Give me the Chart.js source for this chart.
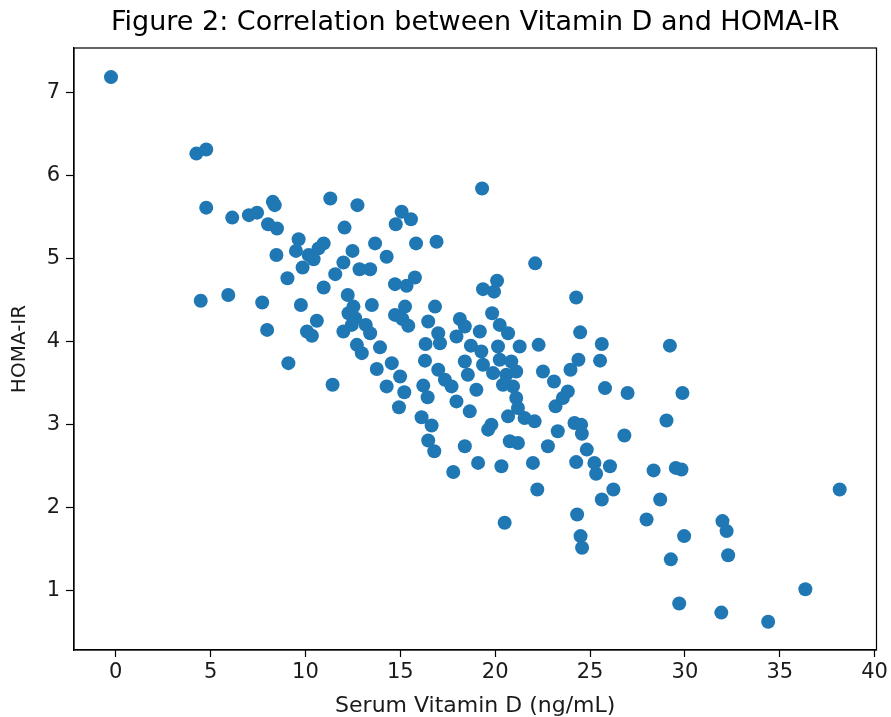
<!DOCTYPE html>
<html>
<head>
<meta charset="utf-8">
<title>Vitamin D vs HOMA-IR</title>
<script src="https://cdn.jsdelivr.net/npm/chart.js@4.4.1/dist/chart.umd.min.js"></script>
<style>
    html, body { margin: 0; padding: 0; background: #fff; }
</style>
</head>
<body>
<canvas id="scatterChart" width="891" height="717"></canvas>
<script>
// Serum vitamin D (ng/mL)
const vitaminD = [
    -0.25, 4.25, 4.77, 4.77, 6.14, 7.02, 7.45, 8.28, 8.38, 8.03, 8.5, 8.47, 9.05, 4.48, 5.93, 7.72, 7.98, 9.1,
    11.31, 12.74, 12.06, 15.07, 15.56, 14.76, 9.64, 10.96, 10.69, 9.5, 10.17, 10.43, 9.85, 12.48, 13.67, 15.83,
    16.91, 14.28, 12.0, 11.57, 12.85, 13.41, 10.96, 14.72, 15.33, 15.77, 9.76, 12.23, 12.53, 13.5, 12.27, 10.6,
    14.72, 15.25, 16.47, 16.83, 10.08, 10.34, 12.62, 12.44, 12.0, 13.18, 13.41, 15.11, 15.42, 13.93, 12.71, 12.97,
    11.43, 13.76, 14.55, 14.99, 14.28, 15.21, 14.93, 16.33, 16.3, 16.21, 16.44, 16.12, 16.65, 16.47, 16.79,
    19.31, 22.11, 19.36, 20.1, 19.94, 18.14, 18.4, 19.84, 20.24, 17.0, 19.19,
    20.68, 17.96, 17.09, 18.72, 19.27, 20.15, 21.29, 22.29, 18.4, 19.36, 20.24, 20.85, 17.0, 18.56, 19.89, 20.59,
    21.11, 22.52, 23.1, 17.35, 17.7, 19.01, 20.41, 20.94, 21.11, 17.96, 18.66, 21.2, 20.68, 21.55, 22.08, 19.8,
    19.63, 23.18, 18.4, 20.77, 21.2, 22.78, 19.1, 20.33, 21.99, 17.79, 22.22, 20.5,
    24.27, 24.48, 25.62, 29.21, 25.53, 24.39, 23.97, 23.83, 23.57, 25.79, 26.98, 29.87, 29.03, 23.3, 24.18, 24.53,
    24.57, 26.81, 24.83, 24.27, 25.23, 25.32, 26.05, 28.35, 29.52, 29.82, 26.23, 25.62, 28.7, 27.98, 24.32, 24.5,
    24.58, 29.96, 29.26, 29.7, 38.16, 31.98, 32.2, 32.28, 36.35, 31.92, 34.39
];

// HOMA-IR, same order as vitaminD
const homaIR = [
    7.18, 6.26, 6.31, 5.61, 5.49, 5.52, 5.55, 5.68, 5.64, 5.41, 5.36, 5.04, 4.76, 4.49, 4.56, 4.47, 4.14, 3.74,
    5.72, 5.64, 5.37, 5.56, 5.47, 5.41, 5.23, 5.18, 5.12, 5.09, 5.04, 4.99, 4.89, 5.09, 5.18, 5.18,
    5.2, 5.02, 4.95, 4.81, 4.87, 4.87, 4.65, 4.69, 4.67, 4.77, 4.44, 4.56, 4.42, 4.44, 4.34, 4.25,
    4.32, 4.42, 4.24, 4.42, 4.12, 4.07, 4.28, 4.2, 4.12, 4.2, 4.1, 4.27, 4.19, 3.93, 3.96, 3.86,
    3.48, 3.67, 3.74, 3.58, 3.46, 3.39, 3.21, 3.97, 3.77, 3.47, 3.33, 3.09, 2.99, 2.81, 2.68,
    5.84, 4.94, 4.63, 4.73, 4.6, 4.27, 4.18, 4.34, 4.2, 4.1, 4.12,
    4.1, 4.06, 3.98, 3.95, 3.88, 3.94, 3.94, 3.96, 3.76, 3.72, 3.78, 3.76, 3.66, 3.6, 3.62, 3.6,
    3.64, 3.64, 3.52, 3.54, 3.46, 3.42, 3.48, 3.46, 3.32, 3.28, 3.16, 3.2, 3.1, 3.08, 3.04, 3.0,
    2.94, 3.22, 2.74, 2.8, 2.78, 2.74, 2.54, 2.5, 2.54, 2.43, 2.22, 1.82,
    4.53, 4.11, 3.97, 3.95, 3.77, 3.78, 3.66, 3.4, 3.32, 3.44, 3.38, 3.38, 3.05, 2.92, 3.02, 3.0,
    2.89, 2.87, 2.7, 2.55, 2.54, 2.41, 2.5, 2.45, 2.48, 2.46, 2.22, 2.1, 2.1, 1.86, 1.92, 1.66,
    1.52, 1.66, 1.38, 0.85, 2.22, 1.84, 1.72, 1.43, 1.02, 0.74, 0.63
];

// Tick labels
const xTicks = [0, 5, 10, 15, 20, 25, 30, 35, 40];
const yTicks = [1, 2, 3, 4, 5, 6, 7];

const points = vitaminD.map((v, i) => ({ x: v, y: homaIR[i] }));

// matplotlib-style closed box around the plot area
const boxBorder = {
    id: 'boxBorder',
    afterDraw(chart) {
        const { ctx, chartArea: a } = chart;
        ctx.save();
        ctx.strokeStyle = '#000';
        ctx.lineWidth = 1.2;
        ctx.strokeRect(a.left, a.top, a.right - a.left, a.bottom - a.top);
        ctx.restore();
    }
};

const tickFont = { family: 'DejaVu Sans', size: 21 };

new Chart(document.getElementById('scatterChart').getContext('2d'), {
    type: 'scatter',
    data: {
        datasets: [{
            data: points,
            backgroundColor: '#1f77b4',
            borderWidth: 0,
            pointRadius: 7,
            pointHoverRadius: 7
        }]
    },
    options: {
        responsive: false,
        animation: false,
        devicePixelRatio: 1,
        layout: { padding: { left: 0, right: 13, top: 0, bottom: 0 } },
        plugins: {
            legend: { display: false },
            tooltip: { enabled: false },
            title: {
                display: true,
                fullSize: false,
                text: 'Figure 2: Correlation between Vitamin D and HOMA-IR',
                color: '#000',
                font: { family: 'DejaVu Sans', size: 27, weight: 'normal' },
                padding: { top: 7, bottom: 8.6 }
            }
        },
        scales: {
            x: {
                type: 'linear',
                min: -2.2,
                max: 40.1,
                afterBuildTicks: s => { s.ticks = xTicks.map(v => ({ value: v })); },
                afterFit: s => { s.height = 67; },
                ticks: { color: '#1a1a1a', font: tickFont, padding: 3, maxRotation: 0 },
                grid: { drawOnChartArea: false, drawTicks: true, tickLength: 7, tickColor: '#000', tickWidth: 1.2 },
                border: { display: true, color: '#000', width: 1.2 },
                title: {
                    display: true,
                    text: 'Serum Vitamin D (ng/mL)',
                    color: '#1a1a1a',
                    font: { family: 'DejaVu Sans', size: 22, lineHeight: 1 },
                    padding: { top: 0, bottom: 0 }
                }
            },
            y: {
                type: 'linear',
                min: 0.29,
                max: 7.53,
                afterBuildTicks: s => { s.ticks = yTicks.map(v => ({ value: v })); },
                afterFit: s => { s.width = 74; },
                ticks: { color: '#1a1a1a', font: tickFont, padding: 6 },
                grid: { drawOnChartArea: false, drawTicks: true, tickLength: 8, tickColor: '#000', tickWidth: 1.2 },
                border: { display: true, color: '#000', width: 1.2 },
                title: {
                    display: true,
                    text: 'HOMA-IR',
                    color: '#1a1a1a',
                    font: { family: 'DejaVu Sans', size: 20 },
                    padding: { top: 8, bottom: 0 }
                }
            }
        }
    },
    plugins: [boxBorder]
});
</script>
</body>
</html>
